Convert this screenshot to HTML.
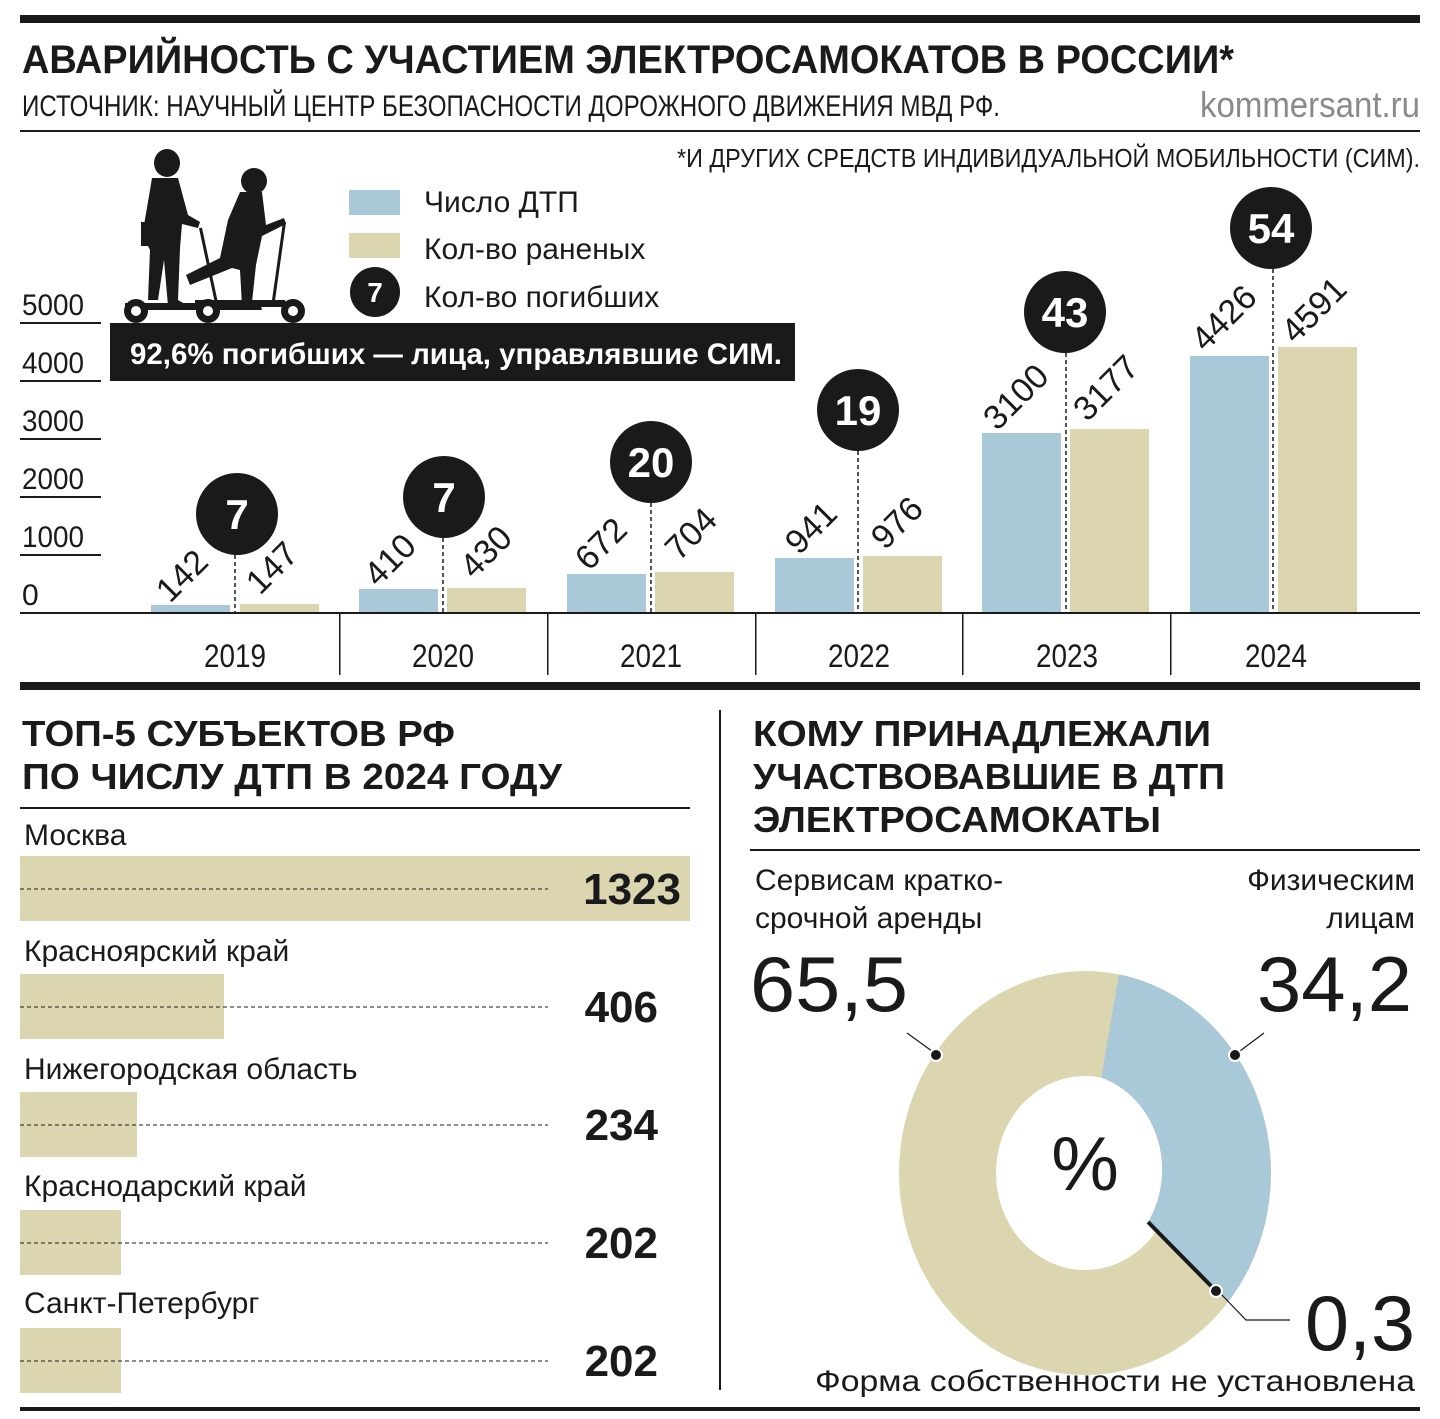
<!DOCTYPE html>
<html><head><meta charset="utf-8"><style>
html,body{margin:0;padding:0;background:#fff}
svg{display:block}
text{font-family:"Liberation Sans","DejaVu Sans",sans-serif;fill:#1a1a1a}
.b{font-weight:bold}
</style></head><body>
<svg width="1440" height="1419" viewBox="0 0 1440 1419" xmlns="http://www.w3.org/2000/svg">
<rect x="20" y="15" width="1400" height="8" fill="#1a1a1a"/>
<text class="b" x="22" y="73" font-size="40" textLength="1212" lengthAdjust="spacingAndGlyphs">АВАРИЙНОСТЬ С УЧАСТИЕМ ЭЛЕКТРОСАМОКАТОВ В РОССИИ*</text>
<text x="22" y="116" font-size="30" textLength="978" lengthAdjust="spacingAndGlyphs">ИСТОЧНИК: НАУЧНЫЙ ЦЕНТР БЕЗОПАСНОСТИ ДОРОЖНОГО ДВИЖЕНИЯ МВД РФ.</text>
<text x="1420" y="117" font-size="36" fill="#8a8a8a" style="fill:#8a8a8a" text-anchor="end" textLength="220" lengthAdjust="spacingAndGlyphs">kommersant.ru</text>
<rect x="20" y="130" width="1400" height="2" fill="#1a1a1a"/>
<text x="1420" y="167" font-size="26" text-anchor="end" textLength="743" lengthAdjust="spacingAndGlyphs">*И ДРУГИХ СРЕДСТВ ИНДИВИДУАЛЬНОЙ МОБИЛЬНОСТИ (СИМ).</text>

<g fill="#1a1a1a">
<ellipse cx="167" cy="163" rx="13" ry="14"/>
<path d="M152 178 L178 178 L188 215 L200 222 L198 228 L182 224 L180 248 L178 300 L185 304 L168 306 L164 260 L158 300 L148 300 L150 250 L145 240 L144 225 L150 190 Z"/>
<rect x="141" y="222" width="15" height="24"/>
<ellipse cx="254" cy="181" rx="13" ry="13"/>
<path d="M240 192 L262 192 L266 225 L284 218 L286 224 L262 236 L256 265 L252 302 L262 306 L242 306 L240 270 L232 268 L190 285 L186 275 L220 258 L228 220 Z"/>
<path d="M125 303 L260 303 L262 310 L125 310 Z"/>
<path d="M195 300 L285 300 L287 307 L195 307 Z"/>
<rect x="199" y="228" width="3" height="78" transform="rotate(-12 200 228)"/>
<rect x="283" y="222" width="3" height="85" transform="rotate(8 284 222)"/>
</g>
<circle cx="136" cy="311" r="12" fill="#1a1a1a"/><circle cx="136" cy="311" r="5" fill="#fff"/>
<circle cx="208" cy="311" r="12" fill="#1a1a1a"/><circle cx="208" cy="311" r="5" fill="#fff"/>
<circle cx="293" cy="311" r="12" fill="#1a1a1a"/><circle cx="293" cy="311" r="5" fill="#fff"/>

<rect x="349" y="190" width="51" height="25" fill="#a9c9d9"/>
<rect x="349" y="233" width="51" height="25" fill="#dcd6b0"/>
<circle cx="375" cy="292" r="25" fill="#1a1a1a"/>
<text class="b" x="375" y="302" font-size="28" text-anchor="middle" style="fill:#fff">7</text>
<text x="424" y="212" font-size="30">Число ДТП</text>
<text x="424" y="259" font-size="30">Кол-во раненых</text>
<text x="424" y="307" font-size="30">Кол-во погибших</text>

<g font-size="30">
<text x="22" y="315" textLength="62" lengthAdjust="spacingAndGlyphs">5000</text>
<text x="22" y="373" textLength="62" lengthAdjust="spacingAndGlyphs">4000</text>
<text x="22" y="431" textLength="62" lengthAdjust="spacingAndGlyphs">3000</text>
<text x="22" y="489" textLength="62" lengthAdjust="spacingAndGlyphs">2000</text>
<text x="22" y="547" textLength="62" lengthAdjust="spacingAndGlyphs">1000</text>
<text x="22" y="605">0</text>
</g>
<g fill="#1a1a1a">
<rect x="20" y="322" width="81" height="2"/><rect x="20" y="380" width="81" height="2"/>
<rect x="20" y="438" width="81" height="2"/><rect x="20" y="496" width="81" height="2"/>
<rect x="20" y="554" width="81" height="2"/>
</g>
<rect x="110" y="323" width="685" height="58" fill="#1a1a1a"/>
<text class="b" x="130" y="364" font-size="30" style="fill:#fff" textLength="652" lengthAdjust="spacingAndGlyphs">92,6% погибших — лица, управлявшие СИМ.</text>

<g fill="#a9c9d9">
<rect x="151" y="605" width="79" height="8"/>
<rect x="359" y="589" width="79" height="24"/>
<rect x="567" y="574" width="79" height="39"/>
<rect x="775" y="558" width="79" height="55"/>
<rect x="982" y="433" width="79" height="180"/>
<rect x="1190" y="356" width="79" height="257"/>
</g>
<g fill="#dcd6b0">
<rect x="240" y="604" width="79" height="9"/>
<rect x="447" y="588" width="79" height="25"/>
<rect x="655" y="572" width="79" height="41"/>
<rect x="863" y="556" width="79" height="57"/>
<rect x="1070" y="429" width="79" height="184"/>
<rect x="1278" y="347" width="79" height="266"/>
</g>
<g stroke="#1a1a1a" stroke-width="1.5" stroke-dasharray="4 3">
<line x1="235" y1="555" x2="235" y2="613"/>
<line x1="443" y1="538" x2="443" y2="613"/>
<line x1="651" y1="503" x2="651" y2="613"/>
<line x1="858" y1="451" x2="858" y2="613"/>
<line x1="1066" y1="353" x2="1066" y2="613"/>
<line x1="1273" y1="269" x2="1273" y2="613"/>
</g>
<g fill="#1a1a1a">
<circle cx="237" cy="514" r="41"/><circle cx="444" cy="497" r="41"/>
<circle cx="651" cy="462" r="41"/><circle cx="858" cy="410" r="41"/>
<circle cx="1065" cy="312" r="41"/><circle cx="1271" cy="228" r="41"/>
</g>
<g class="b" font-size="42" text-anchor="middle" style="fill:#fff;font-weight:bold">
<text x="237" y="529" style="fill:#fff">7</text><text x="444" y="512" style="fill:#fff">7</text>
<text x="651" y="477" style="fill:#fff">20</text><text x="858" y="425" style="fill:#fff">19</text>
<text x="1065" y="327" style="fill:#fff">43</text><text x="1271" y="243" style="fill:#fff">54</text>
</g>
<g font-size="34" text-anchor="middle">
<text transform="translate(190,584) rotate(-45)">142</text>
<text transform="translate(280,576) rotate(-45)">147</text>
<text transform="translate(398,568) rotate(-45)">410</text>
<text transform="translate(494,560) rotate(-45)">430</text>
<text transform="translate(609,552) rotate(-45)">672</text>
<text transform="translate(699,542) rotate(-45)">704</text>
<text transform="translate(819,536) rotate(-45)">941</text>
<text transform="translate(905,531) rotate(-45)">976</text>
<text transform="translate(1024,405) rotate(-45)">3100</text>
<text transform="translate(1114,396) rotate(-45)">3177</text>
<text transform="translate(1232,326) rotate(-45)">4426</text>
<text transform="translate(1322,318) rotate(-45)">4591</text>
</g>
<rect x="20" y="612" width="1400" height="2" fill="#1a1a1a"/>
<g fill="#1a1a1a">
<rect x="339" y="613" width="1.5" height="62"/><rect x="547" y="613" width="1.5" height="62"/>
<rect x="755" y="613" width="1.5" height="62"/><rect x="962" y="613" width="1.5" height="62"/>
<rect x="1170" y="613" width="1.5" height="62"/>
</g>
<g font-size="32" text-anchor="middle">
<text x="235" y="667" textLength="62" lengthAdjust="spacingAndGlyphs">2019</text>
<text x="443" y="667" textLength="62" lengthAdjust="spacingAndGlyphs">2020</text>
<text x="651" y="667" textLength="62" lengthAdjust="spacingAndGlyphs">2021</text>
<text x="859" y="667" textLength="62" lengthAdjust="spacingAndGlyphs">2022</text>
<text x="1067" y="667" textLength="62" lengthAdjust="spacingAndGlyphs">2023</text>
<text x="1276" y="667" textLength="62" lengthAdjust="spacingAndGlyphs">2024</text>
</g>
<rect x="20" y="682" width="1400" height="8" fill="#1a1a1a"/>

<text class="b" x="22" y="746" font-size="36" textLength="433" lengthAdjust="spacingAndGlyphs">ТОП-5 СУБЪЕКТОВ РФ</text>
<text class="b" x="22" y="789" font-size="36" textLength="540" lengthAdjust="spacingAndGlyphs">ПО ЧИСЛУ ДТП В 2024 ГОДУ</text>
<rect x="20" y="807" width="670" height="2" fill="#1a1a1a"/>
<g font-size="30">
<text x="24" y="845">Москва</text>
<text x="24" y="961">Красноярский край</text>
<text x="24" y="1079">Нижегородская область</text>
<text x="24" y="1196">Краснодарский край</text>
<text x="24" y="1313">Санкт-Петербург</text>
</g>
<g fill="#dcd6b0">
<rect x="20" y="856" width="670" height="65"/>
<rect x="20" y="974" width="204" height="65"/>
<rect x="20" y="1092" width="117" height="65"/>
<rect x="20" y="1210" width="101" height="65"/>
<rect x="20" y="1328" width="101" height="65"/>
</g>
<g stroke="#1a1a1a" stroke-width="1" stroke-dasharray="4 3">
<line x1="20" y1="889" x2="548" y2="889"/>
<line x1="20" y1="1007" x2="548" y2="1007"/>
<line x1="20" y1="1125" x2="548" y2="1125"/>
<line x1="20" y1="1243" x2="548" y2="1243"/>
<line x1="20" y1="1361" x2="548" y2="1361"/>
</g>
<g class="b" font-size="44" text-anchor="end">
<text x="681" y="904">1323</text>
<text x="658" y="1022">406</text>
<text x="658" y="1140">234</text>
<text x="658" y="1258">202</text>
<text x="658" y="1376">202</text>
</g>
<rect x="719" y="710" width="2" height="680" fill="#1a1a1a"/>

<text class="b" x="753" y="746" font-size="36" textLength="458" lengthAdjust="spacingAndGlyphs">КОМУ ПРИНАДЛЕЖАЛИ</text>
<text class="b" x="753" y="789" font-size="36" textLength="472" lengthAdjust="spacingAndGlyphs">УЧАСТВОВАВШИЕ В ДТП</text>
<text class="b" x="753" y="832" font-size="36" textLength="408" lengthAdjust="spacingAndGlyphs">ЭЛЕКТРОСАМОКАТЫ</text>
<rect x="750" y="849" width="670" height="2" fill="#1a1a1a"/>
<g font-size="30">
<text x="755" y="890">Сервисам кратко-</text>
<text x="755" y="928">срочной аренды</text>
<text x="1415" y="890" text-anchor="end">Физическим</text>
<text x="1415" y="928" text-anchor="end">лицам</text>
<text x="1415" y="1391" text-anchor="end" textLength="600" lengthAdjust="spacingAndGlyphs">Форма собственности не установлена</text>
</g>
<g font-size="78">
<text x="750" y="1011" textLength="158" lengthAdjust="spacingAndGlyphs">65,5</text>
<text x="1412" y="1011" text-anchor="end" textLength="155" lengthAdjust="spacingAndGlyphs">34,2</text>
<text x="1415" y="1350" text-anchor="end" textLength="110" lengthAdjust="spacingAndGlyphs">0,3</text>
</g>
<path fill-rule="evenodd" fill="#dcd6b0" d="M899 1173 A186 202 0 1 0 1271 1173 A186 202 0 1 0 899 1173 Z M996 1173 A89 97 0 1 0 1174 1173 A89 97 0 1 0 996 1173 Z"/>
<path fill="#a9c9d9" d="M1118.9 974.4 A186 202 0 0 1 1228 1302 L1148 1222 A89 97 0 0 0 1101.2 1077.6 Z"/>
<line x1="1148" y1="1222" x2="1216" y2="1291" stroke="#1a1a1a" stroke-width="4"/>
<text x="1085" y="1190" font-size="76" text-anchor="middle">%</text>
<g stroke="#1a1a1a" stroke-width="1.2" fill="none">
<line x1="907" y1="1033" x2="936" y2="1054"/>
<line x1="1264" y1="1033" x2="1236" y2="1054"/>
<polyline points="1220,1293 1246,1320 1290,1320"/>
</g>
<g fill="#1a1a1a" stroke="#fff" stroke-width="2">
<circle cx="936" cy="1055" r="6"/><circle cx="1235" cy="1055" r="6"/><circle cx="1216" cy="1291" r="6"/>
</g>
<rect x="20" y="1407" width="1400" height="4" fill="#1a1a1a"/>
</svg>
</body></html>
